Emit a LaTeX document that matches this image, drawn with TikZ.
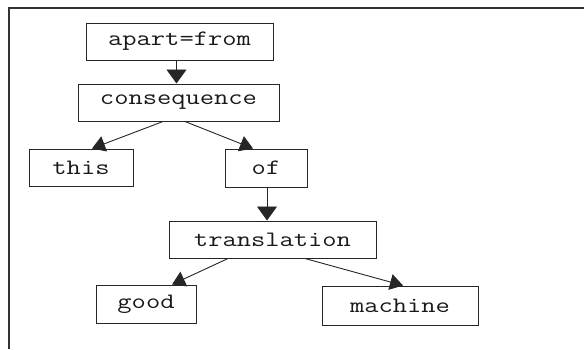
\documentclass[tikz,border=0pt]{standalone}
\usepackage{fontspec}
\usetikzlibrary{arrows.meta}
\newcommand{\wordtext}[1]{\scalebox{1.26}[1]{#1}}
\tikzset{
  word/.style={draw=black!85, line width=1pt, inner sep=0pt, fill=white,
    font=\ttfamily\fontsize{22}{22}\selectfont, text=black!90},
  link/.style={draw=black!85, line width=0.9pt},
  vtip/.style={link, -{Triangle[length=14pt,width=20pt]}},
  stip/.style={link, -{Triangle[length=13pt,width=16pt]}},
}
\begin{document}
\begin{tikzpicture}[x=1pt,y=-1pt]
\useasboundingbox (0,0) rectangle (584,349);
\fill[white] (0,0) rectangle (584,349);
\draw[line width=1.8pt, black!80] (9,349) -- (9,8) -- (584,8);
\node[word, minimum width=187pt, minimum height=37pt] (apart) at (179.5,41.5) {\wordtext{apart=from}};
\node[word, minimum width=201pt, minimum height=37pt] (cons) at (178.5,102.5) {\wordtext{consequence}};
\node[word, minimum width=104pt, minimum height=37pt] (this) at (81,167.5) {\wordtext{this}};
\node[word, minimum width=82pt, minimum height=38pt] (of) at (266,168) {\wordtext{of}};
\node[word, minimum width=207pt, minimum height=37pt] (trans) at (272.5,239.5) {\wordtext{translation}};
\node[word, minimum width=100pt, minimum height=38pt] (good) at (146,304) {\wordtext{good}};
\node[word, minimum width=156pt, minimum height=39pt] (mach) at (400,305.5) {\wordtext{machine}};
\draw[vtip] ([xshift=-3pt]apart.south) -- ([xshift=-2pt]cons.north);
\draw[stip] ([xshift=-15.5pt]cons.south) -- ([xshift=11pt]this.north);
\draw[stip] ([xshift=6.5pt]cons.south) -- ([xshift=-13pt]of.north);
\draw[vtip] ([xshift=1pt]of.south) -- ([xshift=-5.5pt]trans.north);
\draw[stip] ([xshift=-44.5pt]trans.south) -- ([xshift=26pt]good.north);
\draw[stip] ([xshift=32.5pt]trans.south) -- ([xshift=3pt]mach.north);
\end{tikzpicture}
\end{document}
